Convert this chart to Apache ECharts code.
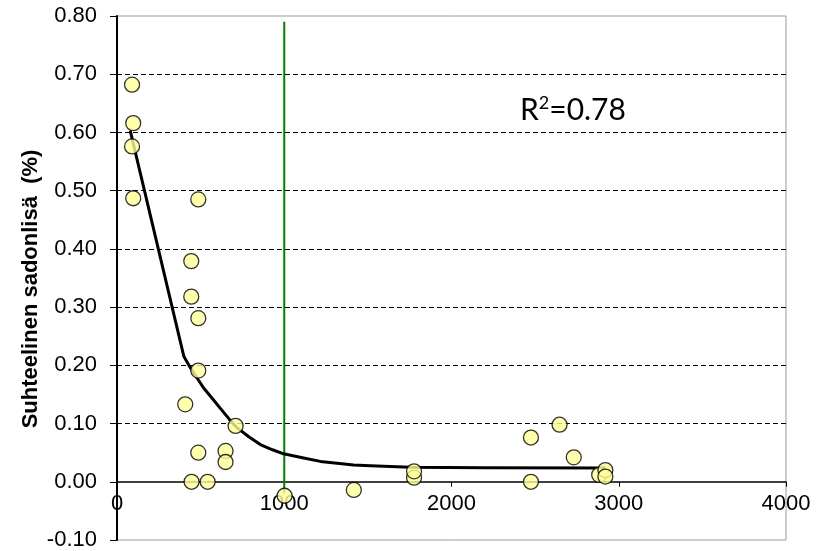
<!DOCTYPE html>
<html>
<head>
<meta charset="utf-8">
<script src="https://cdn.jsdelivr.net/npm/echarts@6/dist/echarts.min.js"></script>
<style>
  html, body { margin: 0; padding: 0; background: #fff; }
  #chart { width: 821px; height: 551px; }
</style>
</head>
<body>
<div id="chart"></div>
<script>
// Observed relative yield increase against x
const pointX = [90, 97, 90, 97, 486, 444, 444, 486, 486, 408, 709, 486, 649, 649, 446, 542, 1002, 1416, 1776, 1776, 2475, 2646, 2731, 2475, 2883, 2920, 2920];
const pointY = [0.682, 0.616, 0.576, 0.487, 0.485, 0.379, 0.318, 0.281, 0.191, 0.133, 0.096, 0.050, 0.053, 0.034, 0.000, 0.000, -0.024, -0.014, 0.007, 0.018, 0.076, 0.098, 0.042, 0.000, 0.012, 0.020, 0.009];

// Fitted response curve
const fitX = [79, 400, 430, 470, 518, 570, 618, 670, 717, 790, 857, 930, 996, 1116, 1216, 1415, 1515, 1754, 2200, 2920];
const fitY = [0.603, 0.215, 0.200, 0.182, 0.161, 0.143, 0.126, 0.108, 0.093, 0.077, 0.064, 0.055, 0.048, 0.041, 0.035, 0.029, 0.0275, 0.025, 0.024, 0.0235];

// Vertical reference at x = 1000
const refX = [1000, 1000];
const refY = [-0.02, 0.79];

const xTicks = [0, 1000, 2000, 3000, 4000];
const yTicks = [-0.1, 0.0, 0.1, 0.2, 0.3, 0.4, 0.5, 0.6, 0.7, 0.8];

const yTitle = 'Suhteelinen sadonlisä  (%)';
const r2Text = 'R{sup|2}=0.78';

const zip = (a, b) => a.map((v, i) => [v, b[i]]);

// grid lines: hide the ones on the plot border and under the zero axis
const splitColors = yTicks.map((v, i) =>
  (i === 0 || i === yTicks.length - 1 || v === 0) ? 'rgba(0,0,0,0)' : '#000');

const GRID_TOP = 16, GRID_BOTTOM = 11, HEIGHT = 551;
const plotH = HEIGHT - GRID_TOP - GRID_BOTTOM;
// distance from the bottom edge up to the y = 0 line
const zeroOffset = plotH * (0 - yTicks[0]) / (yTicks[yTicks.length - 1] - yTicks[0]);

const chart = echarts.init(document.getElementById('chart'), null, { renderer: 'canvas' });

chart.setOption({
  backgroundColor: '#fff',
  animation: false,
  grid: {
    left: 117, right: 35, top: GRID_TOP, bottom: GRID_BOTTOM,
    show: true, borderColor: '#9a9a9a', borderWidth: 1, backgroundColor: 'transparent'
  },
  xAxis: {
    type: 'value',
    position: 'bottom',
    offset: -zeroOffset,
    min: xTicks[0], max: xTicks[xTicks.length - 1], interval: 1000,
    axisLine: { show: true, onZero: false, lineStyle: { color: '#000', width: 1.5 } },
    axisTick: { show: true, inside: false, length: 5, lineStyle: { color: '#000', width: 1 } },
    axisLabel: {
      show: true, margin: 11, color: '#000',
      fontFamily: 'Liberation Sans', fontSize: 22,
      showMinLabel: true, showMaxLabel: true,
      formatter: v => String(v)
    },
    splitLine: { show: false }
  },
  yAxis: {
    type: 'value',
    min: yTicks[0], max: yTicks[yTicks.length - 1], interval: 0.1,
    axisLine: { show: true, onZero: false, lineStyle: { color: '#000', width: 2 } },
    axisTick: { show: true, inside: false, length: 7, lineStyle: { color: '#000', width: 1 } },
    axisLabel: {
      margin: 20, color: '#000',
      fontFamily: 'Liberation Sans', fontSize: 22,
      formatter: v => v.toFixed(2)
    },
    splitLine: {
      show: true,
      lineStyle: { color: splitColors, width: 1, type: [5, 3] }
    }
  },
  graphic: [
    {
      type: 'text',
      x: 31, y: 289,
      rotation: Math.PI / 2,
      style: {
        text: yTitle,
        font: 'bold 22px "Liberation Sans"',
        fill: '#000',
        align: 'center',
        verticalAlign: 'middle'
      }
    },
    {
      type: 'text',
      x: 520, y: 110,
      style: {
        text: r2Text,
        fill: '#000',
        font: '30px Lato',
        verticalAlign: 'middle',
        rich: {
          sup: { font: '18px Lato', fill: '#000', verticalAlign: 'top', padding: [0, 0, 13, 0] }
        }
      }
    }
  ],
  series: [
    {
      name: 'ref',
      type: 'line',
      data: zip(refX, refY),
      symbol: 'none',
      lineStyle: { color: '#008000', width: 2 },
      z: 2,
      silent: true
    },
    {
      name: 'fit',
      type: 'line',
      data: zip(fitX, fitY),
      symbol: 'none',
      smooth: false,
      lineStyle: { color: '#000', width: 3, join: 'round' },
      z: 3,
      silent: true
    },
    {
      name: 'obs',
      type: 'scatter',
      data: zip(pointX, pointY),
      symbol: 'circle',
      symbolSize: 15,
      itemStyle: { color: '#FFFF99', borderColor: '#000', borderWidth: 1.3 },
      z: 4
    }
  ]
});
</script>
</body>
</html>
